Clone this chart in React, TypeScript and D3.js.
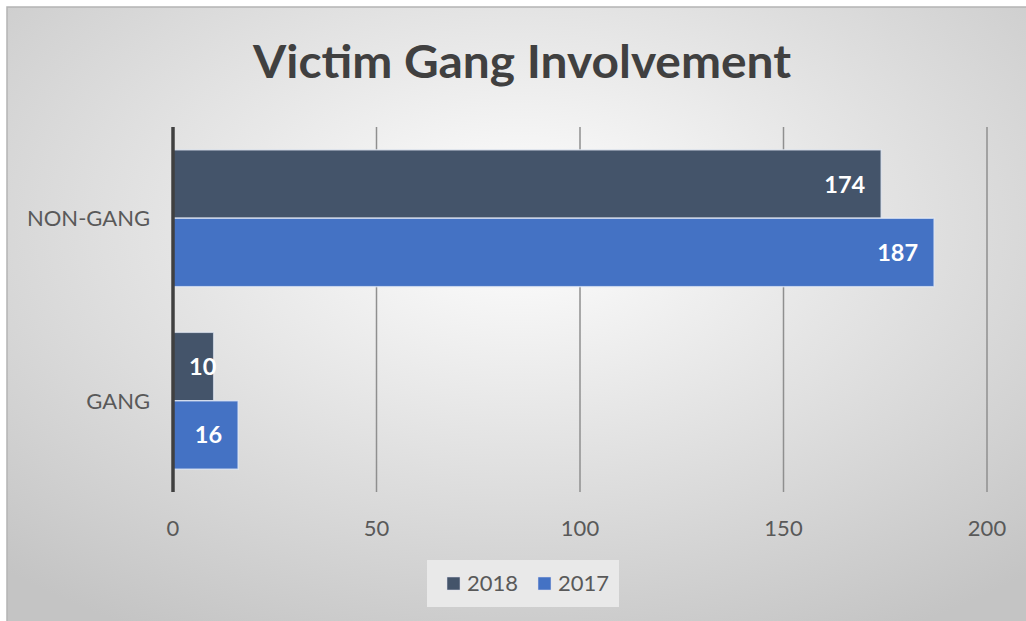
import React from "react";
import * as d3 from "d3";

const categories = ["NON-GANG", "GANG"];
const seriesNames = ["2018", "2017"];
const values2018 = [174, 10];
const values2017 = [187, 16];
const xTicks = [0, 50, 100, 150, 200];
const title = "Victim Gang Involvement";
const colors = ["#44546A", "#4472C4"];

const W = 1026;
const H = 621;

export default function App() {
  const x = d3.scaleLinear().domain([0, 200]).range([173, 987]);
  const y = d3.scaleBand().domain(categories).range([127, 492]).paddingInner(0.25).paddingOuter(0.125);
  const inner = d3.scaleBand().domain(seriesNames).range([0, y.bandwidth()]);
  const series = [values2018, values2017];
  const font = "Lato, 'Open Sans', sans-serif";

  return (
    <svg width={W} height={H} style={{ position: "absolute", left: 0, top: 0 }}>
      <defs>
        <radialGradient id="bg" cx="0.5" cy="0.35" r="0.75">
          <stop offset="0" stopColor="#ffffff" />
          <stop offset="1" stopColor="#c4c4c4" />
        </radialGradient>
      </defs>
      <rect x={0} y={0} width={W} height={H} fill="#ffffff" />
      <rect x={7} y={7} width={W} height={H} fill="url(#bg)" stroke="#b4b4b4" strokeWidth={1.5} />
      <text x={522} y={78} textAnchor="middle" fontFamily={font} fontWeight={700} fontSize={45} fill="#404040" textLength={538} lengthAdjust="spacingAndGlyphs">
        {title}
      </text>
      {xTicks.map((t) => (
        <g key={t}>
          {t !== 0 && (
            <line x1={x(t)} x2={x(t)} y1={127} y2={492} stroke="#8f8f8f" strokeWidth={1.5} />
          )}
          <text x={x(t)} y={536} textAnchor="middle" fontFamily={font} fontSize={22} fill="#595959">
            {t}
          </text>
        </g>
      ))}
      {categories.map((c, ci) => (
        <g key={c}>
          <text x={150} y={y(c)! + y.bandwidth() / 2 + 8} textAnchor="end" fontFamily={font} fontSize={22} fill="#595959">
            {c}
          </text>
          {seriesNames.map((s, si) => {
            const v = series[si][ci];
            const by = y(c)! + inner(s)!;
            const bw = x(v) - x(0);
            const label = String(v);
            const tw = label.length * 13;
            let tx = x(v) - 16;
            let anchor: "end" | "start" = "end";
            if (tx - tw < x(0) + 16) {
              tx = x(0) + 16;
              anchor = "start";
            }
            return (
              <g key={s}>
                <rect x={x(0)} y={by} width={bw} height={inner.bandwidth()} fill={colors[si]} stroke="#e8eef8" strokeOpacity={0.7} strokeWidth={1.5} />
                <text x={tx} y={by + inner.bandwidth() / 2 + 8.5} textAnchor={anchor} fontFamily={font} fontWeight={700} fontSize={23.5} fill="#ffffff">
                  {label}
                </text>
              </g>
            );
          })}
        </g>
      ))}
      <line x1={x(0)} x2={x(0)} y1={127} y2={492} stroke="#404040" strokeWidth={3.5} />
      <rect x={427} y={560} width={192} height={47} fill="#e9e9e9" />
      {seriesNames.map((s, i) => (
        <g key={s}>
          <rect x={447 + i * 91} y={577} width={13} height={13} fill={colors[i]} stroke="#dde" strokeWidth={0.5} />
          <text x={467 + i * 91} y={591} fontFamily={font} fontSize={22} fill="#595959">
            {s}
          </text>
        </g>
      ))}
    </svg>
  );
}
